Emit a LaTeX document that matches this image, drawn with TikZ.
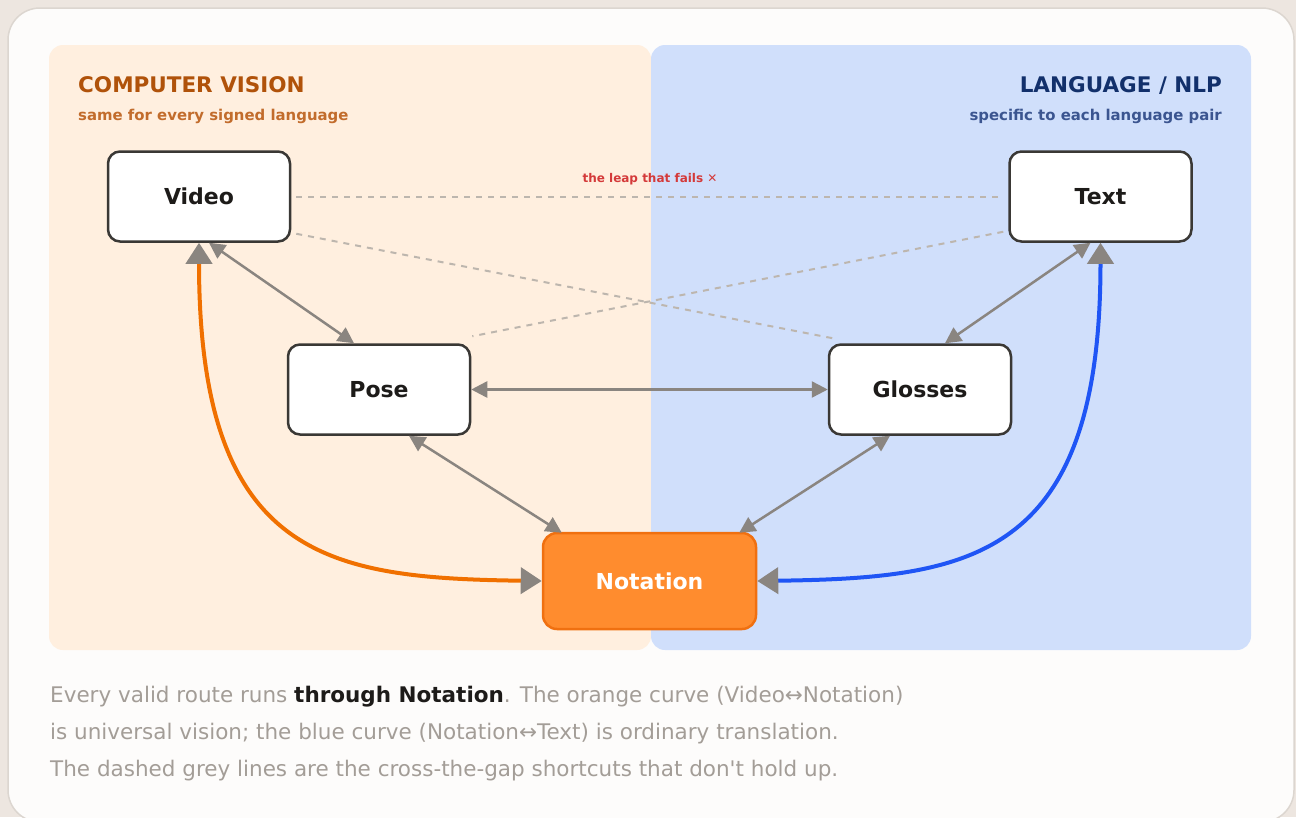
\documentclass[tikz,border=0pt]{standalone}
\usepackage{fontspec}
\setmainfont{DejaVu Sans}
\usetikzlibrary{arrows.meta,calc}
\definecolor{bgc}{HTML}{EDE6E0}
\definecolor{cardc}{HTML}{FDFCFB}
\definecolor{cardline}{HTML}{DCD6D0}
\definecolor{orpanel}{HTML}{FFEFDF}
\definecolor{blpanel}{HTML}{D0DFFB}
\definecolor{ortitle}{HTML}{B0520A}
\definecolor{orsub}{HTML}{C26C2C}
\definecolor{bltitle}{HTML}{12306B}
\definecolor{blsub}{HTML}{3B5590}
\definecolor{boxline}{HTML}{3A3835}
\definecolor{boxtext}{HTML}{1D1B19}
\definecolor{arrowg}{HTML}{8A8580}
\definecolor{dashg}{HTML}{BDB6AE}
\definecolor{notfill}{HTML}{FF8C2E}
\definecolor{notline}{HTML}{F07010}
\definecolor{orcurve}{HTML}{F07000}
\definecolor{blcurve}{HTML}{1F55F5}
\definecolor{leapred}{HTML}{D43A3A}
\definecolor{captc}{HTML}{A39D97}
\begin{document}
\begin{tikzpicture}[x=1pt,y=-1pt,
  stagebox/.style={draw=boxline, line width=2.5pt, fill=white, rounded corners=12pt,
    minimum width=182pt, minimum height=90pt, inner sep=0pt, text=boxtext,
    font=\fontsize{22}{26}\selectfont\bfseries},
  notbox/.style={stagebox, draw=notline, fill=notfill, text=white,
    minimum width=213pt, minimum height=96pt, rounded corners=14pt},
  link/.style={draw=arrowg, line width=2.5pt,
    {Triangle[length=16pt,width=16pt]}-{Triangle[length=16pt,width=16pt]}},
  curve/.style={line width=4pt,
    {Triangle[length=21pt,width=26pt,color=arrowg]}-{Triangle[length=21pt,width=26pt,color=arrowg]}},
  shortcut/.style={draw=dashg, line width=2pt, dash pattern=on 6pt off 6pt},
  captline/.style={anchor=base west, inner sep=0pt, text=captc,
    font=\fontsize{21.5}{26}\selectfont}
]
\useasboundingbox[fill=bgc] (0,0) rectangle (1296,817);
\draw[fill=cardc, draw=cardline, line width=1.5pt, rounded corners=32pt] (8,8) rectangle (1294,822);
\fill[orpanel, rounded corners=14pt] (49,45) rectangle (651,650);
\fill[blpanel, rounded corners=14pt] (651,45) rectangle (1251,650);

\node[anchor=base west, inner sep=0pt, text=ortitle, font=\fontsize{21.5}{24}\selectfont\bfseries] (cvt) at (78,92) {COMPUTER VISION};
\node[anchor=base west, inner sep=0pt, text=orsub, font=\fontsize{14.9}{18}\selectfont\bfseries] (cvs) at (78,120) {same for every signed language};
\node[anchor=base east, inner sep=0pt, text=bltitle, font=\fontsize{21.5}{24}\selectfont\bfseries] (nlt) at (1222,92) {LANGUAGE / NLP};
\node[anchor=base east, inner sep=0pt, text=blsub, font=\fontsize{14.9}{18}\selectfont\bfseries] (nls) at (1222,120) {specific to each language pair};

\node[stagebox] (video) at (199,196.5) {Video};
\node[stagebox] (text) at (1100.5,196.5) {Text};
\node[stagebox] (pose) at (379,389.5) {Pose};
\node[stagebox] (glosses) at (920,389.5) {Glosses};
\node[notbox] (notation) at (649.5,581) {Notation};

% dashed shortcuts
\draw[shortcut, shorten <=5pt, shorten >=5pt] (video.east) -- (text.west);
\draw[shortcut] ($(video.south east)+(5,-9)$) -- ($(glosses.north west)+(5,-5)$);
\draw[shortcut] ($(text.south west)+(-5,-11)$) -- ($(pose.north east)+(1,-7)$);
\node[text=leapred, font=\fontsize{12}{15}\selectfont\bfseries, inner sep=0pt] (leap) at (650,179) {the leap that fails ✕};

% grey links
\draw[link] ($(video.south)+(10,0)$) -- ($(pose.north)+(-25,0)$);
\draw[link] ($(text.south)+(-10,0)$) -- ($(glosses.north)+(25,0)$);
\draw[link] (pose.east) -- (glosses.west);
\draw[link] ($(pose.south)+(30,0)$) -- ($(notation.north west)+(20,1)$);
\draw[link] ($(glosses.south)+(-30,0)$) -- ($(notation.north east)+(-18,1)$);

% curves
\draw[curve, draw=orcurve] (video.south) .. controls (199,560) and (330,578) .. (notation.west);
\draw[curve, draw=blcurve] (text.south) .. controls (1100.5,560) and (970,578) .. (notation.east);

% caption
\node[captline] (cap1) at (50,702) {Every valid route runs {\color{boxtext}\bfseries through Notation}. The orange curve (Video↔Notation)};
\node[captline] (cap2) at (50,739) {is universal vision; the blue curve (Notation↔Text) is ordinary translation.};
\node[captline] (cap3) at (50,776) {The dashed grey lines are the cross-the-gap shortcuts that don\textquotesingle t hold up.};
\end{tikzpicture}
\end{document}
